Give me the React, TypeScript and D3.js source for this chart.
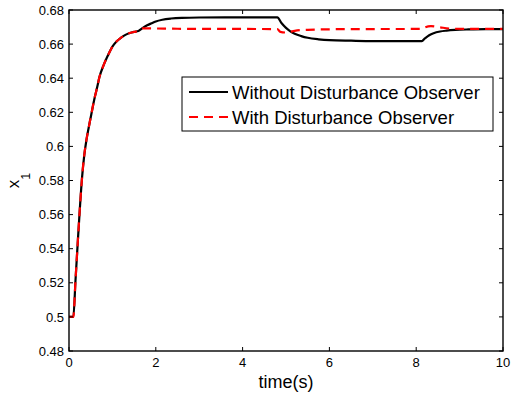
import React from "react";
import * as d3 from "d3";

const xTicks = [0, 2, 4, 6, 8, 10];
const yTicks = [0.48, 0.5, 0.52, 0.54, 0.56, 0.58, 0.6, 0.62, 0.64, 0.66, 0.68];

// common start-up transient (both series coincide until ~1.6 s)
const riseT = [0, 0.07, 0.1, 0.15, 0.2, 0.25, 0.3, 0.35, 0.4, 0.45, 0.5, 0.55, 0.6, 0.65, 0.7, 0.8, 0.9, 1.0, 1.1, 1.2, 1.3, 1.4, 1.5, 1.6];
const riseV = [0.5, 0.5, 0.5, 0.5215, 0.543, 0.5635, 0.5815, 0.5945, 0.6035, 0.6105, 0.617, 0.6235, 0.6295, 0.6348, 0.6405, 0.6478, 0.6535, 0.6585, 0.6617, 0.6638, 0.6654, 0.6665, 0.6672, 0.6677];

const withoutT = [1.7, 1.8, 1.9, 2.0, 2.15, 2.35, 2.6, 3.0, 4.0, 4.8, 4.9, 5.0, 5.1, 5.2, 5.35, 5.5, 5.75, 6.0, 6.5, 7.0, 8.13, 8.2, 8.3, 8.4, 8.55, 8.7, 8.9, 9.2, 9.6, 10];
const withoutV = [0.6695, 0.671, 0.6722, 0.6733, 0.6743, 0.675, 0.6754, 0.6756, 0.6757, 0.6757, 0.6722, 0.6695, 0.6675, 0.6661, 0.6647, 0.6637, 0.6628, 0.6623, 0.662, 0.6618, 0.6618, 0.6633, 0.6652, 0.6664, 0.6674, 0.6679, 0.6683, 0.6686, 0.6688, 0.6688];

const withT = [1.65, 1.7, 1.8, 2.5, 4.8, 4.87, 5.0, 5.2, 5.5, 6.5, 8.13, 8.2, 8.34, 8.55, 8.8, 9.2, 10];
const withV = [0.6688, 0.6692, 0.6692, 0.669, 0.6688, 0.6672, 0.6668, 0.6678, 0.6684, 0.6688, 0.6689, 0.6698, 0.6705, 0.6698, 0.6691, 0.6689, 0.6689];

const legendLabels = ["Without Disturbance Observer", "With Disturbance Observer"];

const W = 511, H = 396;
const L = 69, R = 503, T = 10, B = 351;
const font = "'Liberation Sans', Arial, Helvetica, sans-serif";

export default function App() {
  const x = d3.scaleLinear().domain([0, 10]).range([L, R]);
  const y = d3.scaleLinear().domain([0.48, 0.68]).range([B, T]);
  const line = d3.line<[number, number]>().x(d => x(d[0])).y(d => y(d[1])).curve(d3.curveMonotoneX);
  const rise = riseT.map((t, i) => [t, riseV[i]] as [number, number]);
  const s1 = rise.concat(withoutT.map((t, i) => [t, withoutV[i]] as [number, number]));
  const s2 = rise.concat(withT.map((t, i) => [t, withV[i]] as [number, number]));
  const tl = 4;
  return (
    <svg width={W} height={H} style={{ position: "absolute", left: 0, top: 0, background: "#fff" }} fontFamily={font}>
      <rect x={0} y={0} width={W} height={H} fill="#fff" />
      <defs>
        <clipPath id="clip"><rect x={L} y={T} width={R - L} height={B - T} /></clipPath>
      </defs>
      <g clipPath="url(#clip)">
        <path d={line(s1) || ""} fill="none" stroke="#000" strokeWidth={2.2} />
        <path d={line(s2) || ""} fill="none" stroke="#ff0000" strokeWidth={2.2} strokeDasharray="9,6" />
      </g>
      <rect x={L} y={T} width={R - L} height={B - T} fill="none" stroke="#000" strokeWidth={1.4} />
      {xTicks.map(t => (
        <g key={"x" + t}>
          <line x1={x(t)} x2={x(t)} y1={B} y2={B - tl} stroke="#000" strokeWidth={1} />
          <line x1={x(t)} x2={x(t)} y1={T} y2={T + tl} stroke="#000" strokeWidth={1} />
          <text x={x(t)} y={367} fontSize={13} textAnchor="middle" fill="#000">{t}</text>
        </g>
      ))}
      {yTicks.map(v => (
        <g key={"y" + v}>
          <line x1={L} x2={L + tl} y1={y(v)} y2={y(v)} stroke="#000" strokeWidth={1} />
          <line x1={R} x2={R - tl} y1={y(v)} y2={y(v)} stroke="#000" strokeWidth={1} />
          <text x={64} y={y(v)} dy="0.36em" fontSize={13} textAnchor="end" fill="#000">{String(v)}</text>
        </g>
      ))}
      <text x={(L + R) / 2} y={388} fontSize={18} textAnchor="middle" fill="#000">time(s)</text>
      <text transform={`translate(18.5,${(T + B) / 2}) rotate(-90)`} textAnchor="middle" fill="#000" fontSize={17}>
        x<tspan dy={11} fontSize={12.5}>1</tspan>
      </text>
      <rect x={182} y={77} width={311} height={54} fill="#fff" stroke="#000" strokeWidth={1} />
      <line x1={189} x2={228} y1={92} y2={92} stroke="#000" strokeWidth={2.2} />
      <line x1={189} x2={228} y1={117} y2={117} stroke="#ff0000" strokeWidth={2.2} strokeDasharray="9,6" />
      <text x={232} y={92} dy="0.36em" fontSize={18.5} fill="#000">{legendLabels[0]}</text>
      <text x={232} y={117} dy="0.36em" fontSize={18.5} fill="#000">{legendLabels[1]}</text>
    </svg>
  );
}
